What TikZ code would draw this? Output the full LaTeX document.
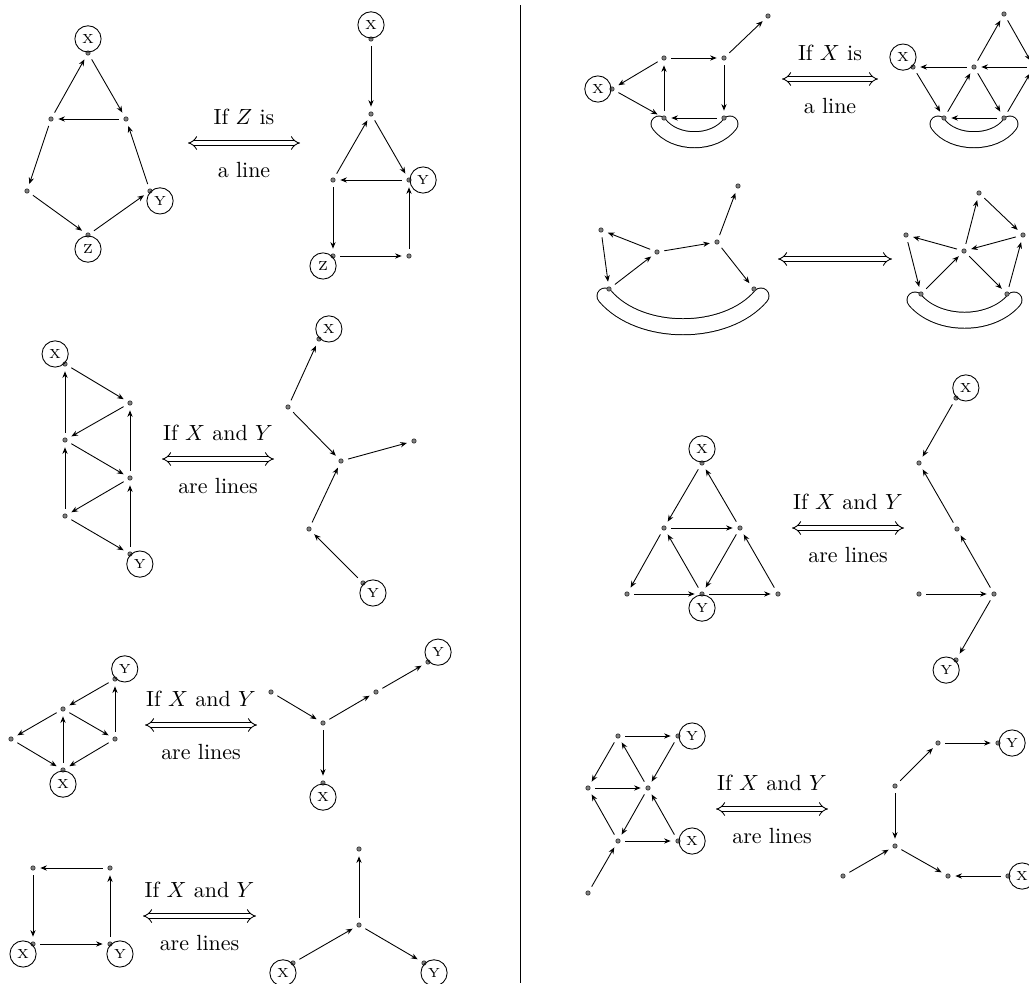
\documentclass[tikz,border=0pt]{standalone}
\usepackage{amsmath}
\usetikzlibrary{arrows.meta}

\begin{document}
\begin{tikzpicture}[x=0.016cm,y=-0.016cm,>={Stealth[length=3pt,width=2.4pt]},
  v/.style={circle,fill=gray,draw=black!80,line width=0.3pt,inner sep=0pt,minimum size=0.07cm},
  lab/.style={circle,draw,thin,inner sep=0pt,minimum size=0.42cm,font=\fontsize{6}{7}\selectfont},
  vx/.style={v,label={[lab]#1}},
  label distance=-0.9pt,
  e/.style={->,shorten <=2.2pt,shorten >=2.2pt},
  imp/.style={double,double distance=1.8pt,{Implies[length=5pt,width=7pt]}-{Implies[length=5pt,width=7pt]}},
  toptxt/.style={midway,yshift=0.42cm},
  bottxt/.style={midway,yshift=-0.43cm},
  band/.style={double=white,double distance=0.24cm,line width=0.45pt,line cap=round}]
  \useasboundingbox (0,0) rectangle (1029,983);
  % ---- bands (drawn first, dots go on top) ----
  \draw[band] (659,124) .. controls (675,145) and (714,145) .. (730,124);
  \draw[band] (938,124) .. controls (953,145) and (995,145) .. (1010,124);
  \draw[band] (605,296) .. controls (640,337) and (726,337) .. (761,296);
  \draw[band] (915,300) .. controls (938,327) and (991,327) .. (1014,300);
  % ---- separator ----
  \draw (520,5) -- (520,983);

  % ---- row 1, left: Z is a line ----
  \node[vx={above:X}] (Ax) at (88,53) {};
  \node[v] (A1) at (51,119) {};
  \node[v] (A2) at (126,119) {};
  \node[v] (A3) at (27,191) {};
  \node[vx={-35:Y}] (Ay) at (150,191) {};
  \node[vx={below:Z}] (Az) at (88,235) {};
  \foreach \a/\b in {A1/Ax,Ax/A2,A2/A1,A1/A3,A3/Az,Az/Ay,Ay/A2} \draw[e] (\a) -- (\b);
  \coordinate (Al) at (188,143); \coordinate (Ar) at (300,143);
  \draw[imp] (Al) -- (Ar) node[toptxt]{If $Z$ is} node[bottxt]{a line};
  \node[vx={above:X}] (Bx) at (371,39) {};
  \node[v] (B1) at (371,114) {};
  \node[v] (B2) at (333,180) {};
  \node[vx={right:Y}] (By) at (409,180) {};
  \node[vx={225:Z}] (Bz) at (333,256) {};
  \node[v] (B3) at (409,256) {};
  \foreach \a/\b in {Bx/B1,B2/B1,B1/By,By/B2,B2/Bz,Bz/B3,B3/By} \draw[e] (\a) -- (\b);

  % ---- row 2, left ----
  \node[vx={122:X}] (Cx) at (65,364) {};
  \node[v] (C1) at (130,403) {};
  \node[v] (C2) at (65,440) {};
  \node[v] (C3) at (130,478) {};
  \node[v] (C4) at (65,516) {};
  \node[vx={-60:Y}] (Cy) at (130,554) {};
  \foreach \a/\b in {Cx/C1,C1/C2,C2/Cx,C2/C3,C3/C1,C3/C4,C4/C2,C4/Cy,Cy/C3} \draw[e] (\a) -- (\b);
  \coordinate (Cl) at (162,459); \coordinate (Cr) at (274,459);
  \draw[imp] (Cl) -- (Cr) node[toptxt]{If $X$ and $Y$} node[bottxt]{are lines};
  \node[vx={60:X}] (Dx) at (319,339) {};
  \node[v] (D1) at (288,407) {};
  \node[v] (D2) at (341,461) {};
  \node[v] (D3) at (414,441) {};
  \node[v] (D4) at (309,529) {};
  \node[vx={-45:Y}] (Dy) at (363,583) {};
  \foreach \a/\b in {D1/Dx,D1/D2,D2/D3,D4/D2,Dy/D4} \draw[e] (\a) -- (\b);

  % ---- row 3, left ----
  \node[vx={75:Y}] (Ey) at (115,679) {};
  \node[v] (E1) at (63,709) {};
  \node[v] (E2) at (11,739) {};
  \node[v] (E3) at (115,739) {};
  \node[vx={below:X}] (Ex) at (63,770) {};
  \foreach \a/\b in {Ey/E1,E1/E2,E2/Ex,Ex/E1,E1/E3,E3/Ex,E3/Ey} \draw[e] (\a) -- (\b);
  \coordinate (El) at (145,725); \coordinate (Er) at (257,725);
  \draw[imp] (El) -- (Er) node[toptxt]{If $X$ and $Y$} node[bottxt]{are lines};
  \node[v] (F1) at (271,692) {};
  \node[v] (F2) at (323,723) {};
  \node[v] (F3) at (376,692) {};
  \node[vx={30:Y}] (Fy) at (428,662) {};
  \node[vx={below:X}] (Fx) at (323,783) {};
  \foreach \a/\b in {F1/F2,F2/F3,F3/Fy,F2/Fx} \draw[e] (\a) -- (\b);

  % ---- row 4, left ----
  \node[v] (G1) at (33,868) {};
  \node[v] (G2) at (110,868) {};
  \node[vx={225:X}] (Gx) at (33,944) {};
  \node[vx={-45:Y}] (Gy) at (110,944) {};
  \foreach \a/\b in {G2/G1,G1/Gx,Gx/Gy,Gy/G2} \draw[e] (\a) -- (\b);
  \coordinate (Gl) at (143,916); \coordinate (Gr) at (256,916);
  \draw[imp] (Gl) -- (Gr) node[toptxt]{If $X$ and $Y$} node[bottxt]{are lines};
  \node[v] (H1) at (359,849) {};
  \node[v] (H2) at (359,925) {};
  \node[vx={212:X}] (Hx) at (293,963) {};
  \node[vx={-32:Y}] (Hy) at (424,963) {};
  \foreach \a/\b in {H2/H1,Hx/H2,H2/Hy} \draw[e] (\a) -- (\b);

  % ---- row 1, right: X is a line ----
  \node[vx={left:X}] (Ix) at (612,89) {};
  \node[v] (I1) at (664,58) {};
  \node[v] (I2) at (724,58) {};
  \node[v] (I3) at (768,16) {};
  \node[v] (I4) at (664,118) {};
  \node[v] (I5) at (724,118) {};
  \foreach \a/\b in {I1/Ix,Ix/I4,I4/I1,I1/I2,I2/I3,I2/I5,I5/I4} \draw[e] (\a) -- (\b);
  \coordinate (Il) at (782,79); \coordinate (Ir) at (878,79);
  \draw[imp] (Il) -- (Ir) node[toptxt]{If $X$ is} node[bottxt]{a line};
  \node[vx={145:X}] (Jx) at (913,67) {};
  \node[v] (J1) at (974,67) {};
  \node[v] (J2) at (1004,14) {};
  \node[v] (J3) at (1034,67) {};
  \node[v] (J4) at (944,118) {};
  \node[v] (J5) at (1004,118) {};
  \foreach \a/\b in {J1/Jx,Jx/J4,J4/J1,J1/J5,J5/J4,J1/J2,J2/J3,J3/J1,J5/J3} \draw[e] (\a) -- (\b);

  % ---- row 2, right ----
  \node[v] (K1) at (601,230) {};
  \node[v] (K2) at (657,252) {};
  \node[v] (K3) at (717,242) {};
  \node[v] (K4) at (738,186) {};
  \node[v] (K5) at (609,289) {};
  \node[v] (K6) at (754,289) {};
  \foreach \a/\b in {K2/K1,K1/K5,K5/K2,K2/K3,K3/K4,K3/K6} \draw[e] (\a) -- (\b);
  \coordinate (Kl) at (778,259); \coordinate (Kr) at (892,259);
  \draw[imp] (Kl) -- (Kr);
  \node[v] (L1) at (906,235) {};
  \node[v] (L2) at (964,251) {};
  \node[v] (L3) at (979,193) {};
  \node[v] (L4) at (1023,235) {};
  \node[v] (L5) at (921,294) {};
  \node[v] (L6) at (1007,294) {};
  \foreach \a/\b in {L2/L1,L1/L5,L5/L2,L2/L3,L3/L4,L4/L2,L2/L6,L6/L4} \draw[e] (\a) -- (\b);

  % ---- row 3, right ----
  \node[vx={above:X}] (Mx) at (702,463) {};
  \node[v] (M1) at (664,528) {};
  \node[v] (M2) at (740,528) {};
  \node[v] (M3) at (627,594) {};
  \node[vx={below:Y}] (My) at (702,594) {};
  \node[v] (M4) at (778,594) {};
  \foreach \a/\b in {Mx/M1,M2/Mx,M1/M2,M1/M3,My/M1,M2/My,M4/M2,M3/My,My/M4} \draw[e] (\a) -- (\b);
  \coordinate (Ml) at (792,528); \coordinate (Mr) at (904,528);
  \draw[imp] (Ml) -- (Mr) node[toptxt]{If $X$ and $Y$} node[bottxt]{are lines};
  \node[vx={60:X}] (Nx) at (956,398) {};
  \node[v] (N1) at (919,463) {};
  \node[v] (N2) at (957,529) {};
  \node[v] (N3) at (919,594) {};
  \node[v] (N4) at (994,594) {};
  \node[vx={240:Y}] (Ny) at (956,660) {};
  \foreach \a/\b in {Nx/N1,N2/N1,N4/N2,N3/N4,N4/Ny} \draw[e] (\a) -- (\b);

  % ---- row 4, right ----
  \node[v] (O1) at (618,736) {};
  \node[vx={right:Y}] (Oy) at (678,736) {};
  \node[v] (O2) at (588,788) {};
  \node[v] (O3) at (648,788) {};
  \node[v] (O4) at (618,841) {};
  \node[vx={right:X}] (Ox) at (678,841) {};
  \node[v] (O5) at (588,893) {};
  \foreach \a/\b in {O1/Oy,O1/O2,Oy/O3,O2/O3,O3/O1,O3/O4,Ox/O3,O4/O2,O4/Ox,O5/O4} \draw[e] (\a) -- (\b);
  \coordinate (Ol) at (716,809); \coordinate (Or) at (828,809);
  \draw[imp] (Ol) -- (Or) node[toptxt]{If $X$ and $Y$} node[bottxt]{are lines};
  \node[v] (P1) at (938,743) {};
  \node[vx={right:Y}] (Py) at (998,743) {};
  \node[v] (P2) at (895,786) {};
  \node[v] (P3) at (895,846) {};
  \node[v] (P4) at (843,876) {};
  \node[v] (P5) at (948,876) {};
  \node[vx={right:X}] (Px) at (1008,876) {};
  \foreach \a/\b in {P1/Py,P2/P1,P2/P3,P4/P3,P3/P5,Px/P5} \draw[e] (\a) -- (\b);
\end{tikzpicture}
\end{document}
